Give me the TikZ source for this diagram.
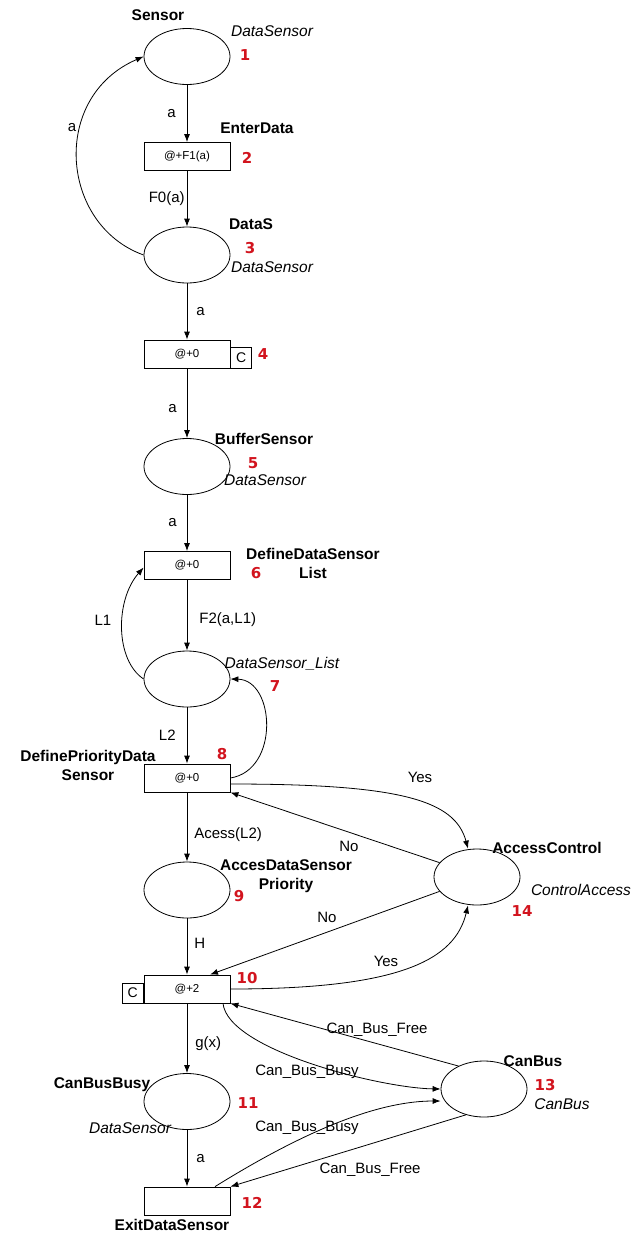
\documentclass[tikz,border=0pt]{standalone}
\usepackage{fontspec}
\setmainfont{Liberation Sans}
\newfontfamily\numfont{DejaVu Sans}
\usetikzlibrary{shapes.geometric,arrows.meta,positioning}
\definecolor{numred}{RGB}{210,20,30}
\begin{document}
\begin{tikzpicture}[x=1bp,y=-1bp,line width=0.8bp,
  place/.style={draw, ellipse, minimum width=86bp, minimum height=56bp, inner sep=0pt},
  trans/.style={draw, rectangle, minimum width=86bp, minimum height=28bp, inner sep=0pt, font=\fontsize{11.5bp}{14bp}\selectfont},
  cbox/.style={draw, minimum width=21bp, minimum height=21bp, inner sep=0pt, font=\fontsize{14bp}{16bp}\selectfont},
  flow/.style={-{Latex[length=8bp,width=6bp]}},
  lbl/.style={font=\fontsize{15bp}{18bp}\selectfont, inner sep=1bp},
  pname/.style={font=\bfseries\fontsize{15.5bp}{19bp}\selectfont, align=center, inner sep=0pt},
  ptype/.style={font=\itshape\fontsize{15.5bp}{18bp}\selectfont, inner sep=0pt},
  num/.style={text=numred, font=\numfont\bfseries\fontsize{15bp}{18bp}\selectfont, inner sep=0pt}]
  \useasboundingbox (0,0) rectangle (638,1236);
  % places and transitions
  \node[place] (P1) at (187,56.5) {};
  \node[trans] (T2) at (187,156.5) {@+F1(a)};
  \node[place] (P3) at (187,255) {};
  \node[trans] (T4) at (187,354) {@+0};
  \node[cbox, anchor=south west] (C4) at (T4.south east) {C};
  \node[place] (P5) at (187,466.5) {};
  \node[trans] (T6) at (187,565.5) {@+0};
  \node[place] (P7) at (187,679) {};
  \node[trans] (T8) at (187,778) {@+0};
  \node[place] (P9) at (187,890) {};
  \node[trans] (T10) at (187,989) {@+2};
  \node[cbox, minimum height=20bp, anchor=south east] (C10) at (T10.south west) {C};
  \node[place] (P11) at (187,1101.5) {};
  \node[trans] (T12) at (187,1201) {};
  \node[place] (P13) at (484,1089) {};
  \node[place] (P14) at (477,877) {};
  % names, colour sets and numbers
  \node[pname] (nSensor) at (158,15) {Sensor};
  \node[ptype] (tSensor) at (272,31) {DataSensor};
  \node[num] (n1) at (245,55) {1};
  \node[pname] (nEnter) at (257,128) {EnterData};
  \node[num] (n2) at (247,158) {2};
  \node[pname] (nDataS) at (251,224) {DataS};
  \node[num] (n3) at (250,248) {3};
  \node[ptype] (tDataS) at (272,267) {DataSensor};
  \node[num] (n4) at (263,354) {4};
  \node[pname] (nBuffer) at (264,439) {BufferSensor};
  \node[num] (n5) at (253,463) {5};
  \node[ptype] (tBuffer) at (265,480) {DataSensor};
  \node[pname] (nDefList) at (313,563) {DefineDataSensor\\List};
  \node[num] (n6) at (256,573) {6};
  \node[ptype] (tList) at (282,664) {DataSensor\_List};
  \node[num] (n7) at (275,686) {7};
  \node[pname] (nDefPrio) at (88,765) {DefinePriorityData\\Sensor};
  \node[num] (n8) at (222,754) {8};
  \node[pname] (nAcces) at (286,876) {AccesDataSensor\\Priority};
  \node[num] (n9) at (239,896) {9};
  \node[num] (n10) at (247,978) {10};
  \node[pname] (nBusy) at (102,1085) {CanBusBusy};
  \node[num] (n11) at (248,1103) {11};
  \node[ptype] (tBusy) at (130,1128) {DataSensor};
  \node[pname] (nExit) at (172,1225) {ExitDataSensor};
  \node[num] (n12) at (252,1203) {12};
  \node[pname] (nCan) at (533,1061) {CanBus};
  \node[num] (n13) at (545,1085) {13};
  \node[ptype] (tCan) at (562,1104) {CanBus};
  \node[pname] (nCtrl) at (547,848) {AccessControl};
  \node[ptype] (tCtrl) at (581,890) {ControlAccess};
  \node[num] (n14) at (522,911) {14};
  % main chain
  \draw[flow] (P1) -- node[lbl, left=10bp] (l1) {a} (T2);
  \draw[flow] (T2) -- node[lbl, left=1bp] (l2) {F0(a)} (P3);
  \draw[flow] (P3) -- node[lbl, right=8bp] (l3) {a} (T4);
  \draw[flow] (T4) -- node[lbl, left=9bp, pos=0.57] (l4) {a} (P5);
  \draw[flow] (P5) -- node[lbl, left=9bp] (l5) {a} (T6);
  \draw[flow] (T6) -- node[lbl, right=11bp, pos=0.56] (l6) {F2(a,L1)} (P7);
  \draw[flow] (P7) -- node[lbl, left=10bp] (l7) {L2} (T8);
  \draw[flow] (T8) -- node[lbl, right=6bp, pos=0.61] (l8) {Acess(L2)} (P9);
  \draw[flow] (P9) -- node[lbl, right=6bp, pos=0.44] (l9) {H} (T10);
  \draw[flow] (T10) -- node[lbl, right=7bp, pos=0.58] (l10) {g(x)} (P11);
  \draw[flow] (P11) -- node[lbl, right=8bp] (l11) {a} (T12);
  % loops
  \draw[flow] (P3.west) .. controls (60,225) and (50,97) .. (P1.west);
  \node[lbl] (lA3) at (72,128) {a};
  \draw[flow] (P7.west) .. controls (115,660) and (115,600) .. ([yshift=-2bp]T6.west);
  \node[lbl] (lL1) at (103,620) {L1};
  \draw[flow] (T8.east) .. controls (280,770) and (275,680) .. (P7.east);
  % access control
  \draw[flow] ([yshift=-6bp]T8.east) .. controls (400,784) and (455,800) .. ([xshift=-9bp]P14.north);
  \node[lbl] (lYes8) at (420,777) {Yes};
  \draw[flow] (P14.159) -- (T8.south east);
  \node[lbl] (lNo8) at (349,846) {No};
  \draw[flow] (P14.201) -- ([xshift=23bp]T10.north);
  \node[lbl] (lNo10) at (327,917) {No};
  \draw[flow] (T10.east) .. controls (400,989) and (455,960) .. ([xshift=-9bp]P14.south);
  \node[lbl] (lYes10) at (386,961) {Yes};
  % can bus
  \draw[flow] (P13.138) -- (T10.south east);
  \node[lbl] (lFree10) at (377,1030) {Can\_Bus\_Free};
  \draw[flow] ([xshift=36bp]T10.south) .. controls (228,1050) and (380,1088) .. (P13.west);
  \node[lbl] (lBusy10) at (307,1072) {Can\_Bus\_Busy};
  \draw[flow] ([xshift=28bp]T12.north) .. controls (290,1140) and (370,1101) .. ([yshift=-12bp]P13.west);
  \node[lbl] (lBusy12) at (307,1128) {Can\_Bus\_Busy};
  \draw[flow] (P13.235) -- (T12.north east);
  \node[lbl] (lFree12) at (370,1170) {Can\_Bus\_Free};
\end{tikzpicture}
\end{document}
